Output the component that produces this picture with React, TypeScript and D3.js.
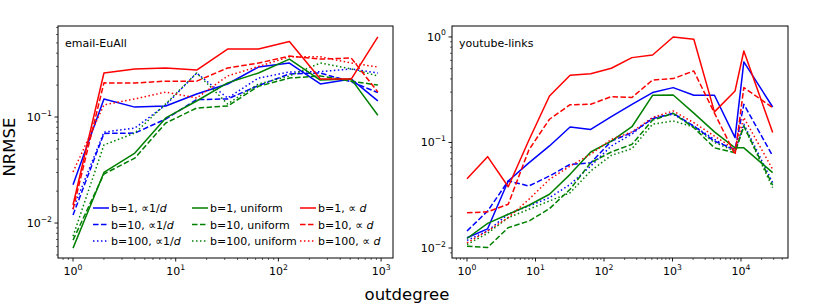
import * as d3 from "d3";

// outdegree bins
const degEmail = [1, 2, 4, 8, 16, 32, 64, 128, 256, 512, 930];
const degYoutube = [1, 2, 4, 8, 16, 32, 64, 128, 256, 512, 1024, 2048, 4096, 8192, 11000, 29000];

// email-EuAll NRMSE
const emailB1Inv = [0.023, 0.148, 0.124, 0.127, 0.165, 0.205, 0.296, 0.323, 0.205, 0.228, 0.142];
const emailB10Inv = [0.0119, 0.07, 0.0706, 0.0957, 0.146, 0.148, 0.198, 0.255, 0.26, 0.215, 0.17];
const emailB100Inv = [0.0135, 0.072, 0.0787, 0.13, 0.26, 0.151, 0.233, 0.266, 0.268, 0.284, 0.26];
const emailB1Uni = [0.0058, 0.03, 0.0457, 0.098, 0.1416, 0.21, 0.26, 0.352, 0.223, 0.228, 0.104];
const emailB10Uni = [0.0069, 0.029, 0.041, 0.0878, 0.1216, 0.127, 0.195, 0.233, 0.244, 0.218, 0.2];
const emailB100Uni = [0.0075, 0.0545, 0.0706, 0.133, 0.26, 0.133, 0.205, 0.244, 0.323, 0.284, 0.244];
const emailB1D = [0.0148, 0.26, 0.284, 0.29, 0.277, 0.438, 0.438, 0.515, 0.228, 0.228, 0.569];
const emailB10D = [0.0135, 0.21, 0.209, 0.218, 0.218, 0.29, 0.323, 0.376, 0.352, 0.36, 0.172];
const emailB100D = [0.0303, 0.13, 0.148, 0.172, 0.151, 0.244, 0.3, 0.37, 0.37, 0.323, 0.296];

// youtube-links NRMSE
const ytB1Inv = [0.0125, 0.0152, 0.0432, 0.064, 0.0927, 0.14, 0.133, 0.176, 0.23, 0.297, 0.331, 0.28, 0.28, 0.111, 0.58, 0.217];
const ytB10Inv = [0.0145, 0.0224, 0.0432, 0.0387, 0.0481, 0.062, 0.064, 0.103, 0.124, 0.168, 0.189, 0.143, 0.103, 0.086, 0.23, 0.0745];
const ytB100Inv = [0.0118, 0.0145, 0.021, 0.025, 0.03, 0.04, 0.0598, 0.0927, 0.12, 0.172, 0.185, 0.143, 0.107, 0.083, 0.149, 0.0416];
const ytB1Uni = [0.0123, 0.0171, 0.0209, 0.0254, 0.0323, 0.0499, 0.0813, 0.103, 0.141, 0.28, 0.282, 0.19, 0.126, 0.089, 0.089, 0.0518];
const ytB10Uni = [0.0104, 0.0101, 0.0156, 0.018, 0.0236, 0.036, 0.0644, 0.0813, 0.096, 0.163, 0.189, 0.138, 0.089, 0.08, 0.143, 0.0393];
const ytB100Uni = [0.0108, 0.0138, 0.0194, 0.0233, 0.0279, 0.0334, 0.0537, 0.0756, 0.0874, 0.149, 0.16, 0.14, 0.1, 0.083, 0.143, 0.0373];
const ytB1D = [0.0454, 0.0734, 0.0381, 0.105, 0.276, 0.434, 0.449, 0.505, 0.637, 0.675, 1.0, 0.95, 0.195, 0.308, 0.736, 0.124];
const ytB10D = [0.0216, 0.022, 0.026, 0.085, 0.166, 0.228, 0.23, 0.272, 0.267, 0.391, 0.403, 0.476, 0.19, 0.077, 0.331, 0.214];
const ytB100D = [0.0112, 0.0145, 0.0194, 0.0289, 0.0448, 0.0598, 0.0773, 0.107, 0.126, 0.172, 0.199, 0.154, 0.115, 0.086, 0.172, 0.0557];

const bValues = ["1", "10", "100"];

const BLUE = "#0000ff", GREEN = "#008000", RED = "#ff0000";
const DASHES = [null, "5.55,2.4", "1.5,2.475"];
const FONT = "DejaVu Sans, sans-serif";

type Panel = {
  title: string;
  left: number; right: number; top: number; bottom: number;
  xDomain: [number, number]; yDomain: [number, number];
  deg: number[];
  lines: number[][]; // blue b1,b10,b100, green..., red...
  legend: boolean;
};

const panels: Panel[] = [
  {
    title: "email-EuAll",
    left: 58, right: 393, top: 26, bottom: 258,
    xDomain: [0.714, 1306], yDomain: [0.00468, 0.722],
    deg: degEmail,
    lines: [emailB1Inv, emailB10Inv, emailB100Inv, emailB1Uni, emailB10Uni, emailB100Uni, emailB1D, emailB10D, emailB100D],
    legend: true,
  },
  {
    title: "youtube-links",
    left: 452, right: 788, top: 26, bottom: 258,
    xDomain: [0.604, 48550], yDomain: [0.00804, 1.27],
    deg: degYoutube,
    lines: [ytB1Inv, ytB10Inv, ytB100Inv, ytB1Uni, ytB10Uni, ytB100Uni, ytB1D, ytB10D, ytB100D],
    legend: false,
  },
];

const colors = [BLUE, GREEN, RED];
const legendCols = [35, 134, 242];

function Pow({ x, y, exp, anchor }: { x: number; y: number; exp: number; anchor: string }) {
  const e = exp < 0 ? "\u2212" + Math.abs(exp) : String(exp);
  return (
    <text x={x} y={y} fontSize={11} textAnchor={anchor} fontFamily={FONT} fill="#000">
      10<tspan fontSize={7.7} dy={-5.5}>{e}</tspan>
    </text>
  );
}

function LegendLabel({ b, kind }: { b: string; kind: number }) {
  if (kind === 1) return <>{`b=${b}, uniform`}</>;
  if (kind === 0)
    return (
      <>
        {`b=${b},  \u221D1/`}<tspan fontStyle="italic">d</tspan>
      </>
    );
  return (
    <>
      {`b=${b},  \u221D `}<tspan fontStyle="italic">d</tspan>
    </>
  );
}

function PanelView({ p }: { p: Panel }) {
  const x = d3.scaleLog().domain(p.xDomain).range([p.left, p.right]);
  const y = d3.scaleLog().domain(p.yDomain).range([p.bottom, p.top]);
  const line = d3
    .line<[number, number]>()
    .x((d) => x(d[0]))
    .y((d) => y(d[1]));

  const isMajor = (v: number) => Math.abs(Math.log10(v) - Math.round(Math.log10(v))) < 1e-9;
  const xt = x.ticks().filter((v) => x(v) >= p.left - 0.01 && x(v) <= p.right + 0.01);
  const yt = y.ticks().filter((v) => y(v) <= p.bottom + 0.01 && y(v) >= p.top - 0.01);

  return (
    <g>
      {p.lines.map((vals, i) => {
        const c = colors[Math.floor(i / 3)];
        const dash = DASHES[i % 3];
        const pts = p.deg.map((d, k) => [d, vals[k]] as [number, number]);
        return (
          <path
            key={i}
            d={line(pts) || ""}
            fill="none"
            stroke={c}
            strokeWidth={1.5}
            strokeDasharray={dash || undefined}
            strokeLinejoin="round"
          />
        );
      })}
      <rect x={p.left} y={p.top} width={p.right - p.left} height={p.bottom - p.top} fill="none" stroke="#000" strokeWidth={1} />
      {xt.map((v, i) => {
        const m = isMajor(v);
        return (
          <g key={"x" + i}>
            <line x1={x(v)} x2={x(v)} y1={p.bottom} y2={p.bottom + (m ? 3.5 : 2)} stroke="#000" strokeWidth={m ? 0.9 : 0.6} />
            {m && <Pow x={x(v)} y={p.bottom + 17} exp={Math.round(Math.log10(v))} anchor="middle" />}
          </g>
        );
      })}
      {yt.map((v, i) => {
        const m = isMajor(v);
        return (
          <g key={"y" + i}>
            <line x1={p.left} x2={p.left - (m ? 3.5 : 2)} y1={y(v)} y2={y(v)} stroke="#000" strokeWidth={m ? 0.9 : 0.6} />
            {m && <Pow x={p.left - 6} y={y(v) + 4} exp={Math.round(Math.log10(v))} anchor="end" />}
          </g>
        );
      })}
      <text x={p.left + 7} y={p.top + 21} fontSize={11} fontFamily={FONT} fill="#000">
        {p.title}
      </text>
      {p.legend &&
        colors.map((c, col) =>
          bValues.map((b, row) => {
            const lx = p.left + legendCols[col];
            const ly = 208 + row * 16.5;
            return (
              <g key={`lg${col}${row}`}>
                <line x1={lx} x2={lx + 16} y1={ly} y2={ly} stroke={c} strokeWidth={1.5} strokeDasharray={DASHES[row] || undefined} />
                <text x={lx + 18} y={ly + 4} fontSize={11} fontFamily={FONT} fill="#000">
                  <LegendLabel b={b} kind={col} />
                </text>
              </g>
            );
          })
        )}
    </g>
  );
}

export default function App() {
  return (
    <svg width={814} height={305} style={{ position: "absolute", left: 0, top: 0, background: "#fff" }}>
      <rect width={814} height={305} fill="#fff" />
      {panels.map((p, i) => (
        <PanelView key={i} p={p} />
      ))}
      <text x={15} y={147} fontSize={16.5} fontFamily={FONT} textAnchor="middle" transform="rotate(-90,15,147)" fill="#000">
        NRMSE
      </text>
      <text x={407} y={300} fontSize={16.5} fontFamily={FONT} textAnchor="middle" fill="#000">
        outdegree
      </text>
    </svg>
  );
}
